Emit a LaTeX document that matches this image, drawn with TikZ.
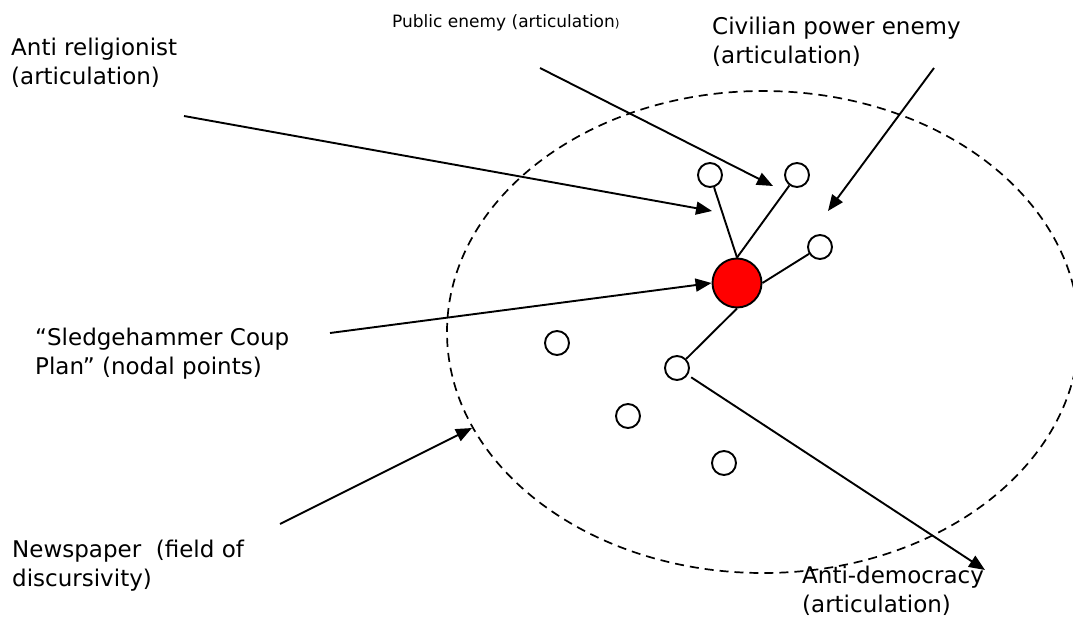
\documentclass[tikz,border=0pt]{standalone}
\usepackage{fontspec}
\setmainfont{DejaVu Sans}
\usetikzlibrary{arrows.meta}
\begin{document}
\begin{tikzpicture}[x=1pt,y=-1pt,
  lbl/.style={inner sep=0pt,anchor=base west,align=left,font=\fontsize{23}{29}\selectfont},
  smalllbl/.style={inner sep=0pt,anchor=base west,font=\fontsize{17}{21}\selectfont},
  dot/.style={circle,draw,line width=1.9pt,fill=white,minimum size=24pt,inner sep=0pt},
  core/.style={circle,draw,line width=1.9pt,fill=red,minimum size=49pt,inner sep=0pt},
  link/.style={line width=1.9pt},
  pointer/.style={line width=1.9pt,-{Triangle[length=16pt,width=13pt]}},
  field/.style={line width=1.7pt,dash pattern=on 9pt off 6pt}]
\useasboundingbox (0,0) rectangle (1073,623);
\fill[white] (0,0) rectangle (1073,623);
% field of discursivity
\draw[field] (763,332) ellipse [x radius=316pt, y radius=241pt];
% nodes
\node[core] (red) at (737,283) {};
\node[dot] (A) at (710,175) {};
\node[dot] (B) at (797,175) {};
\node[dot] (C) at (820,247) {};
\node[dot] (D) at (677,368) {};
\node[dot] (E) at (557,343) {};
\node[dot] (F) at (628,416) {};
\node[dot] (G) at (724,463) {};
% links
\draw[link] (A) -- (red.north);
\draw[link] (B) -- (red.north);
\draw[link] (C) -- (red.east);
\draw[link] (D) -- (red.south);
% labels (anchor is the baseline of the last line)
\node[lbl] (antirel) at (11,85) {Anti religionist\\(articulation)};
\node[smalllbl] (public) at (392,28) {Public enemy (articulation{\fontsize{12}{14}\selectfont)}};
\node[lbl] (civil) at (712,64) {Civilian power enemy\\(articulation)};
\node[lbl] (sledge) at (35,374) {“Sledgehammer Coup\\Plan” (nodal points)};
\node[lbl] (news) at (12,586) {Newspaper\ \ (field of\\discursivity)};
\node[lbl] (antidem) at (802,612) {Anti-democracy\\(articulation)};
% arrow coordinates
\coordinate (s1) at (184,116); \coordinate (t1) at (712,211);
\coordinate (s2) at (540,68);  \coordinate (t2) at (773,186);
\coordinate (s3) at (934,68);  \coordinate (t3) at (828,211);
\coordinate (s4) at (330,333);
\coordinate (s5) at (280,524); \coordinate (t5) at (472,428);
\coordinate (t6) at (985,570);
\draw[pointer] (s1) -- (t1);
\draw[pointer] (s2) -- (t2);
\draw[pointer] (s3) -- (t3);
\draw[pointer] (s4) -- (red.west);
\draw[pointer] (s5) -- (t5);
\draw[pointer,shorten <=4pt] (D) -- (t6);
\end{tikzpicture}
\end{document}
